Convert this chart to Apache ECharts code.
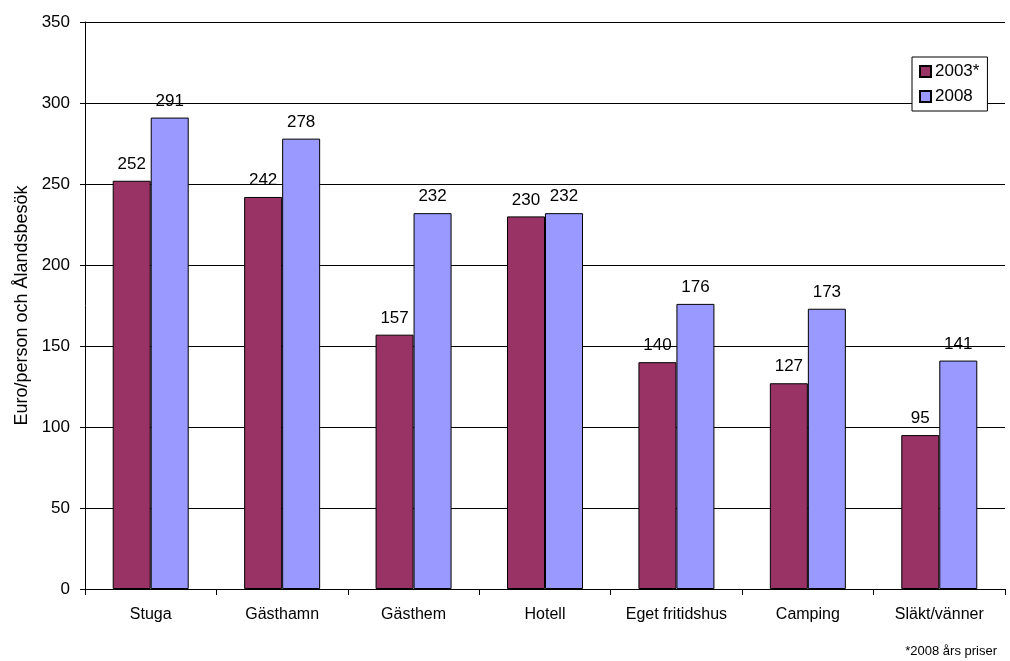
<!DOCTYPE html>
<html>
<head>
<meta charset="utf-8">
<script src="https://cdn.jsdelivr.net/npm/echarts@6/dist/echarts.min.js"></script>
<style>
html, body { margin: 0; padding: 0; background: #fff; }
#chart { width: 1010px; height: 661px; }
</style>
</head>
<body>
<div id="chart"></div>
<script>
var categories = ['Stuga', 'Gästhamn', 'Gästhem', 'Hotell', 'Eget fritidshus', 'Camping', 'Släkt/vänner'];
var values2003 = [252, 242, 157, 230, 140, 127, 95];
var values2008 = [291, 278, 232, 232, 176, 173, 141];
var yTicks = [0, 50, 100, 150, 200, 250, 300, 350];

var myChart = echarts.init(document.getElementById('chart'));
var font = 'Liberation Sans, Arial, sans-serif';

var option = {
    animation: false,
    textStyle: { fontFamily: font },
    grid: { left: 85, top: 22, right: 5, bottom: 72 },
    legend: {
        left: 912,
        top: 57,
        orient: 'vertical',
        backgroundColor: '#fff',
        borderColor: '#000',
        borderWidth: 1,
        padding: [6, 8, 6, 7],
        itemGap: 8,
        itemWidth: 11,
        itemHeight: 11,
        icon: 'rect',
        textStyle: { fontSize: 17, color: '#000', fontFamily: font, padding: [0, 0, 0, -1] },
        data: ['2003*', '2008']
    },
    xAxis: {
        type: 'category',
        data: categories,
        axisLine: { lineStyle: { color: '#000' } },
        axisTick: { show: true, length: 6, alignWithLabel: false, lineStyle: { color: '#000' } },
        axisLabel: { color: '#000', fontSize: 16, margin: 18, interval: 0, fontFamily: font }
    },
    yAxis: {
        type: 'value',
        min: yTicks[0],
        max: yTicks[yTicks.length - 1],
        interval: 50,
        name: 'Euro/person och Ålandsbesök',
        nameLocation: 'middle',
        nameGap: 54,
        nameTextStyle: { color: '#000', fontSize: 18, fontFamily: font },
        axisLine: { show: true, lineStyle: { color: '#000' } },
        axisTick: { show: true, length: 5, lineStyle: { color: '#000' } },
        axisLabel: { color: '#000', fontSize: 17, margin: 15, fontFamily: font },
        splitLine: { show: true, lineStyle: { color: '#000', width: 1 } }
    },
    series: [
        {
            name: '2003*',
            type: 'bar',
            data: values2003,
            barWidth: 38,
            barGap: '0%',
            itemStyle: { color: '#993366', borderColor: '#000', borderWidth: 1 },
            label: { show: true, position: 'top', distance: 8, color: '#000', fontSize: 17, fontFamily: font }
        },
        {
            name: '2008',
            type: 'bar',
            data: values2008,
            barWidth: 38,
            itemStyle: { color: '#9999FF', borderColor: '#000', borderWidth: 1 },
            label: { show: true, position: 'top', distance: 8, color: '#000', fontSize: 17, fontFamily: font }
        }
    ],
    graphic: [
        {
            type: 'text',
            right: 13,
            top: 645,
            style: { text: '*2008 års priser', fill: '#000', fontSize: 13, fontFamily: font }
        }
    ]
};
myChart.setOption(option);
</script>
</body>
</html>
